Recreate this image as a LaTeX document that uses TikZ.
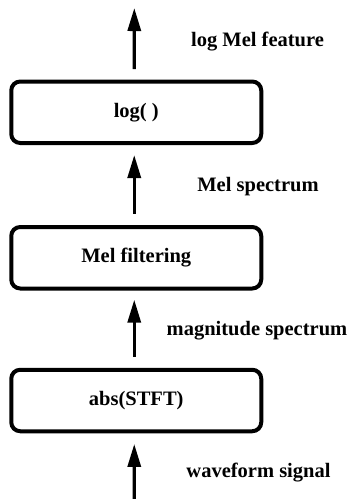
\documentclass[tikz,border=0pt]{standalone}
\usepackage{fontspec}
\setmainfont{Liberation Serif}
\usetikzlibrary{arrows.meta}
\begin{document}
\begin{tikzpicture}[x=1pt,y=-1pt,
  stage/.style={draw,line width=4pt,rounded corners=9pt,minimum width=250pt,minimum height=61.5pt,inner sep=0pt,font=\fontsize{20.5}{24}\selectfont\bfseries},
  lab/.style={inner sep=0pt,font=\fontsize{20.5}{24}\selectfont\bfseries},
  flow/.style={line width=3.3pt,-{Triangle[length=23pt,width=13pt]}}]
\useasboundingbox (0,0) rectangle (352,499);
\node[stage] (log) at (136.25,112.25) {log( )};
\node[stage] (mel) at (136.25,257.75) {Mel filtering};
\node[stage] (abs) at (136.25,400.5) {abs(STFT)};
\coordinate (out) at (134.3,8);
\coordinate (in) at (134.3,499);
\draw[flow] ([xshift=-2pt,yshift=10.5pt]log.north) -- (out);
\draw[flow] ([xshift=-2pt,yshift=11.3pt]mel.north) -- ([xshift=-2pt,yshift=-10pt]log.south);
\draw[flow] ([xshift=-2pt,yshift=11pt]abs.north) -- ([xshift=-2pt,yshift=-9.2pt]mel.south);
\draw[flow] (in) -- ([xshift=-2pt,yshift=-10.7pt]abs.south);
\node[lab] (t1) at (257.5,42) {log Mel feature};
\node[lab] (t2) at (258,187) {Mel spectrum};
\node[lab] (t3) at (257,331) {magnitude spectrum};
\node[lab] (t4) at (258.5,473) {waveform signal};
\end{tikzpicture}
\end{document}
